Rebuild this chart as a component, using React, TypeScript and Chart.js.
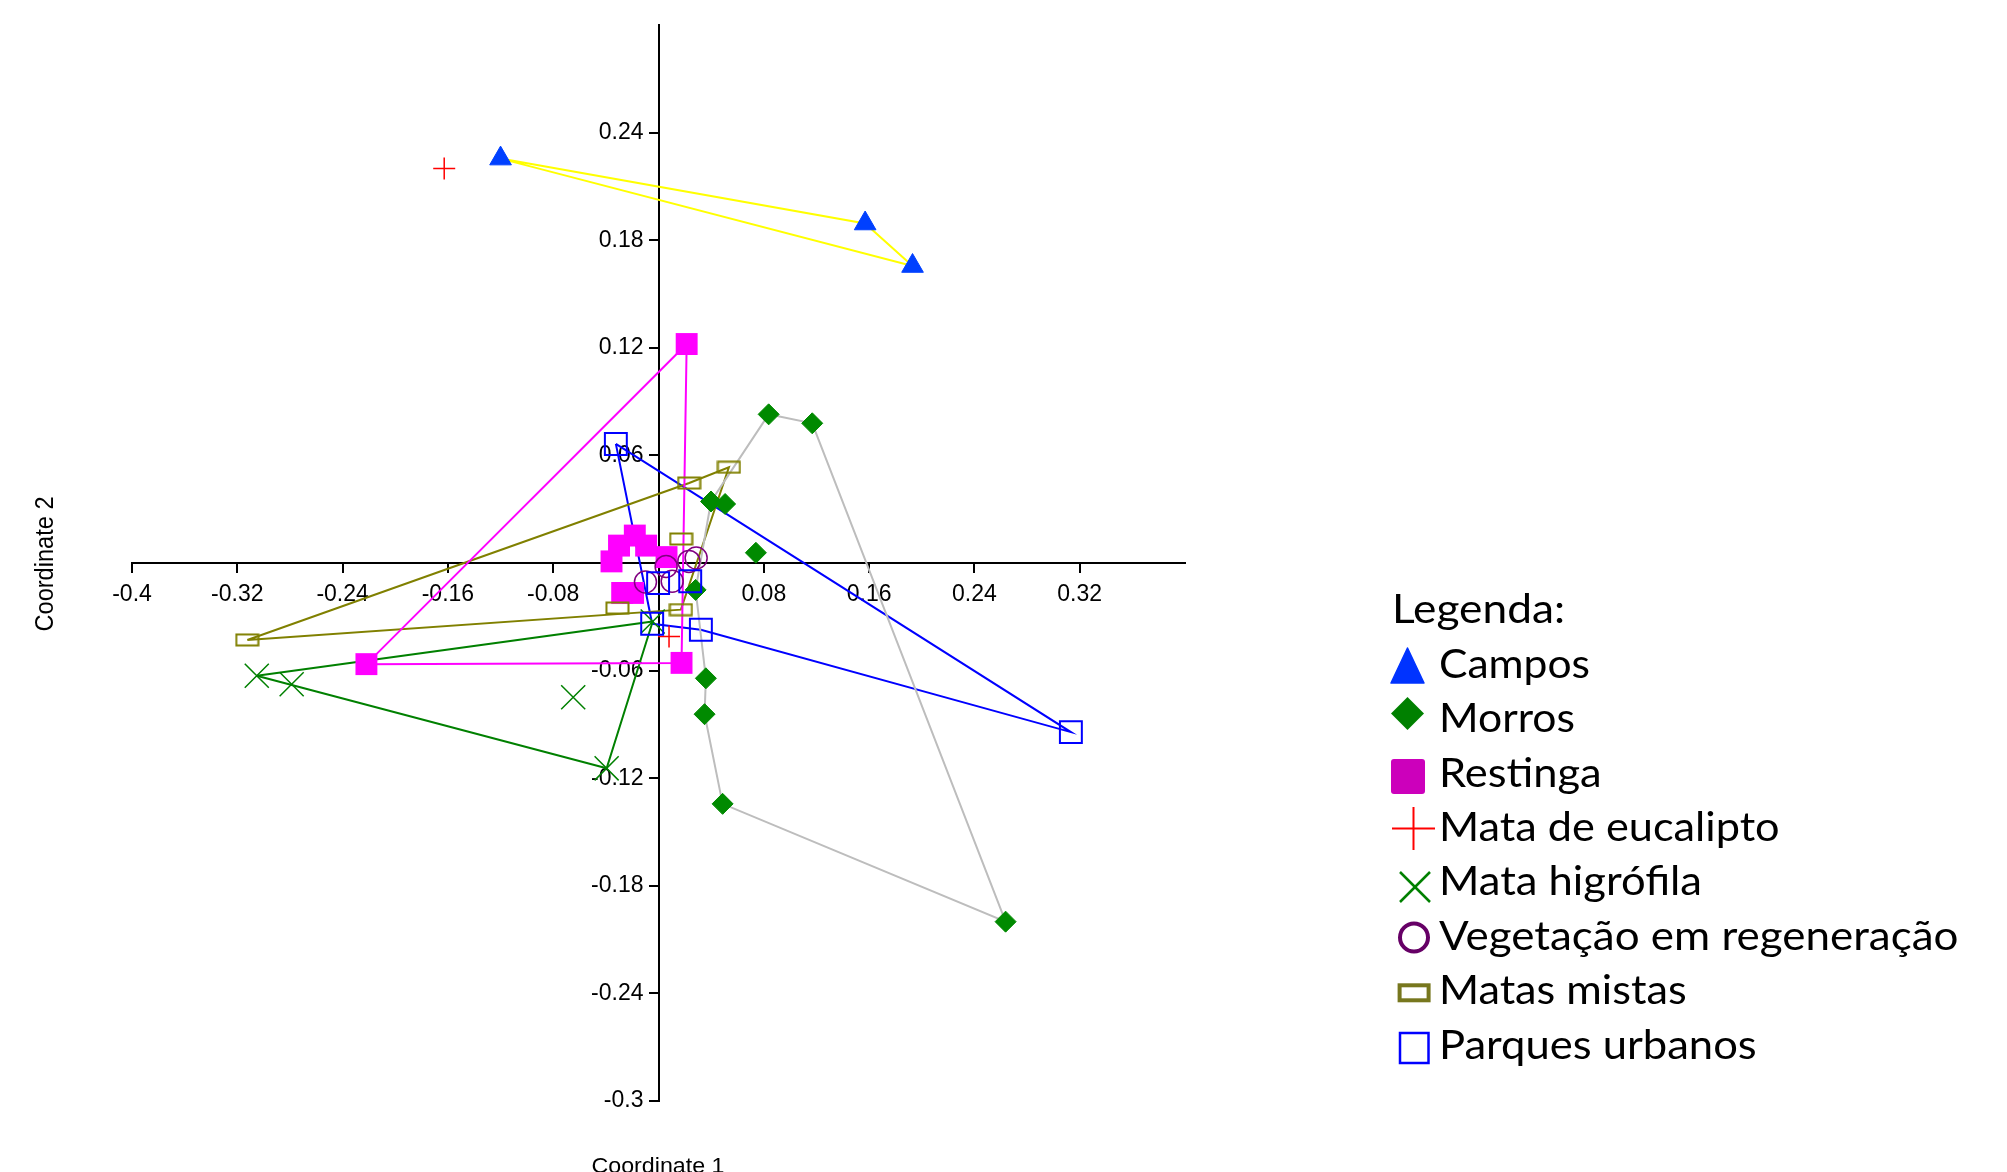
import React, { useEffect, useRef } from 'react';
import { Chart, registerables } from 'chart.js';

Chart.register(...registerables);

// ---------------- data ----------------
const xRange = [-0.4, 0.4];
const yRange = [-0.3, 0.3];
const xStep = 0.08;
const yStep = 0.06;
const axisTitles = ['Coordinate 1', 'Coordinate 2'];
const legendTitle = 'Legenda:';
const groupNames = [
  'Campos',
  'Morros',
  'Restinga',
  'Mata de eucalipto',
  'Mata higrófila',
  'Vegetação em regeneração',
  'Matas mistas',
  'Parques urbanos',
];

const camposX = [-0.12, 0.157, 0.193];
const camposY = [0.2255, 0.1893, 0.1656];
const camposHull = [0, 1, 2];

const morrosX = [0.0837, 0.1168, 0.0399, 0.0506, 0.074, 0.0282, 0.036, 0.035, 0.0487, 0.2637];
const morrosY = [0.0829, 0.0779, 0.0343, 0.0329, 0.0057, -0.015, -0.0643, -0.0843, -0.1343, -0.2];
const morrosHull = [0, 1, 9, 8, 7, 6, 5, 2];

const restingaX = [0.0214, -0.2219, 0.0175, -0.018, -0.03, -0.0094, -0.0357, 0.0061, -0.0276, -0.0193];
const restingaY = [0.1221, -0.0564, -0.0557, 0.0153, 0.0097, 0.0097, 0.0009, 0.0033, -0.0167, -0.0167];
const restingaHull = [0, 1, 2];

const eucaliptoX = [-0.1628, 0.008];
const eucaliptoY = [0.22, -0.041];
const eucaliptoHull: number[] = [];

const higrofilaX = [-0.3052, -0.2787, -0.0648, -0.0394, -0.0044];
const higrofilaY = [-0.0629, -0.0676, -0.0749, -0.1145, -0.0326];
const higrofilaHull = [0, 4, 3];

const regeneracaoX = [0.0058, -0.0099, 0.0104, 0.0231, 0.0286];
const regeneracaoY = [-0.0019, -0.0106, -0.0102, 0.0009, 0.0028];
const regeneracaoHull: number[] = [];

const mistasX = [-0.3124, 0.0233, 0.0535, 0.0172, -0.0312, 0.017];
const mistasY = [-0.0429, 0.0446, 0.0534, 0.0134, -0.0251, -0.026];
const mistasHull = [0, 1, 2, 5];

const parquesX = [-0.0324, -0.0003, 0.0241, -0.0048, 0.0322, 0.3133];
const parquesY = [0.0664, -0.0112, -0.0102, -0.0339, -0.0372, -0.0943];
const parquesHull = [0, 5, 4, 3];

const seriesX = [camposX, morrosX, restingaX, eucaliptoX, higrofilaX, regeneracaoX, mistasX, parquesX];
const seriesY = [camposY, morrosY, restingaY, eucaliptoY, higrofilaY, regeneracaoY, mistasY, parquesY];
const seriesHull = [camposHull, morrosHull, restingaHull, eucaliptoHull, higrofilaHull, regeneracaoHull, mistasHull, parquesHull];

// ---------------- styles ----------------
const hullColors = ['#FFFF00', '#BDBDBD', '#FF00FF', '#FF0000', '#008000', '#800080', '#808000', '#0000FF'];
const FONT = "'Liberation Sans', Arial, sans-serif";
const LEGEND_FONT = "Lato, 'Open Sans', sans-serif";

function fmt(v: number) {
  return String(Math.round(v * 100) / 100);
}

function makeOliveRect(): HTMLCanvasElement {
  const c = document.createElement('canvas');
  c.width = 25;
  c.height = 14;
  const ctx = c.getContext('2d')!;
  ctx.strokeStyle = '#808000';
  ctx.lineWidth = 2;
  ctx.strokeRect(1.5, 1.5, 22, 11);
  return c;
}

export default function App() {
  const canvasRef = useRef<HTMLCanvasElement | null>(null);

  useEffect(() => {
    const canvas = canvasRef.current;
    if (!canvas) return;
    const olive = makeOliveRect();

    const markerStyles: any[] = [
      { pointStyle: 'triangle', pointRadius: 12.5, backgroundColor: '#0040FF', borderColor: '#0040FF', borderWidth: 1 },
      { pointStyle: 'rectRot', pointRadius: 10.5, backgroundColor: '#008A00', borderColor: '#008A00', borderWidth: 1 },
      { pointStyle: 'rect', pointRadius: 15.5, backgroundColor: '#FF00FF', borderColor: '#FF00FF', borderWidth: 0 },
      { pointStyle: 'cross', pointRadius: 11, backgroundColor: '#FF0000', borderColor: '#FF0000', borderWidth: 1.5 },
      { pointStyle: 'crossRot', pointRadius: 17, backgroundColor: '#008000', borderColor: '#008000', borderWidth: 1.5 },
      { pointStyle: 'circle', pointRadius: 11, backgroundColor: 'rgba(0,0,0,0)', borderColor: '#800080', borderWidth: 1.5 },
      { pointStyle: olive, pointRadius: 12, backgroundColor: '#808000', borderColor: '#808000', borderWidth: 0 },
      { pointStyle: 'rect', pointRadius: 15.5, backgroundColor: 'rgba(0,0,0,0)', borderColor: '#0000FF', borderWidth: 2 },
    ];

    const datasets: any[] = [];
    groupNames.forEach((name, g) => {
      const xs = seriesX[g];
      const ys = seriesY[g];
      const hull = seriesHull[g];
      if (hull.length >= 3) {
        datasets.push({
          label: name + ' (hull)',
          data: [...hull, hull[0]].map((i) => ({ x: xs[i], y: ys[i] })),
          showLine: true,
          borderColor: hullColors[g],
          backgroundColor: hullColors[g],
          borderWidth: 2,
          pointRadius: 0,
          pointHoverRadius: 0,
          fill: false,
          tension: 0,
          order: 100 + g,
        });
      }
      const st = markerStyles[g];
      datasets.push({
        label: name,
        data: xs.map((x, i) => ({ x, y: ys[i] })),
        showLine: false,
        ...st,
        pointHoverRadius: st.pointRadius,
        pointBorderWidth: st.borderWidth,
        order: 20 - g,
      });
    });

    const chart = new Chart(canvas, {
      type: 'scatter',
      data: { datasets },
      options: {
        animation: false,
        responsive: false,
        devicePixelRatio: 1,
        events: [],
        layout: { padding: { left: 132, right: 822, top: 25, bottom: 71 } },
        plugins: { legend: { display: false }, tooltip: { enabled: false }, title: { display: false } },
        scales: {
          x: {
            type: 'linear',
            min: xRange[0],
            max: xRange[1],
            position: { y: 0 } as any,
            afterFit: (s: any) => { s.height = 0; },
            afterBuildTicks: (s: any) => {
              s.ticks = s.ticks.filter((t: any) => Math.abs(t.value) > 1e-9 && t.value < xRange[1] - 1e-6);
            },
            grid: { display: true, drawOnChartArea: false, drawTicks: true, tickLength: 9, color: '#000', lineWidth: 2 },
            border: { display: true, color: '#000', width: 2 },
            ticks: {
              stepSize: xStep,
              autoSkip: false,
              maxRotation: 0,
              minRotation: 0,
              padding: 9,
              color: '#000',
              font: { family: FONT, size: 23 },
              callback: (v: any) => fmt(Number(v)),
            },
          },
          y: {
            type: 'linear',
            min: yRange[0],
            max: yRange[1],
            position: 'center',
            afterFit: (s: any) => { s.width = 0; },
            afterBuildTicks: (s: any) => {
              s.ticks = s.ticks.filter((t: any) => Math.abs(t.value) > 1e-9 && t.value < yRange[1] - 1e-6);
            },
            grid: { display: true, drawOnChartArea: false, drawTicks: true, tickLength: 9, color: '#000', lineWidth: 2 },
            border: { display: true, color: '#000', width: 2 },
            ticks: {
              stepSize: yStep,
              autoSkip: false,
              padding: 6,
              color: '#000',
              font: { family: FONT, size: 23 },
              callback: (v: any) => fmt(Number(v)),
            },
          },
        },
      },
    });
    return () => chart.destroy();
  }, []);

  const baseline0 = 623.3;
  const step = 54.4;
  const textX = 1439;
  const legendWidths = [151, 136, 162.7, 340.6, 263, 519.5, 247.6, 317.7];

  return (
    <div style={{ position: 'absolute', left: 0, top: 0, width: 2007, height: 1172, background: '#fff', overflow: 'hidden' }}>
      <canvas ref={canvasRef} width={2007} height={1172} style={{ display: 'block', width: 2007, height: 1172 }} />
      <svg width={2007} height={1172} style={{ position: 'absolute', left: 0, top: 0, pointerEvents: 'none' }}>
        {/* axis titles */}
        <text x={658} y={1173} textAnchor="middle" fontFamily={FONT} fontSize={22} fill="#000" textLength={133} lengthAdjust="spacingAndGlyphs">{axisTitles[0]}</text>
        <text transform="translate(53,564) rotate(-90)" x={0} y={0} textAnchor="middle" fontFamily={FONT} fontSize={26} fill="#000" textLength={135} lengthAdjust="spacingAndGlyphs">{axisTitles[1]}</text>

        {/* legend */}
        <text x={1392} y={baseline0} fontFamily={LEGEND_FONT} fontSize={40} fill="#000" textLength={173} lengthAdjust="spacingAndGlyphs">{legendTitle}</text>
        {groupNames.map((n, i) => (
          <text key={n} x={textX} y={baseline0 + step * (i + 1)} fontFamily={LEGEND_FONT} fontSize={40} fill="#000" textLength={legendWidths[i]} lengthAdjust="spacingAndGlyphs">{n}</text>
        ))}
        {/* legend markers */}
        <polygon points="1391,683 1424,683 1407.5,648" fill="#0033FF" stroke="#0033FF" strokeWidth={1.5} strokeLinejoin="round" />
        <polygon points="1391,713.5 1407.5,697 1424,713.5 1407.5,730" fill="#008000" />
        <rect x={1391} y={759} width={34} height={35} rx={3} fill="#CC00BB" />
        <line x1={1392} y1={828.5} x2={1435} y2={828.5} stroke="#FF0000" strokeWidth={2} />
        <line x1={1413.5} y1={807} x2={1413.5} y2={850} stroke="#FF0000" strokeWidth={2} />
        <line x1={1400} y1={872} x2={1430} y2={902} stroke="#008000" strokeWidth={2.5} />
        <line x1={1430} y1={872} x2={1400} y2={902} stroke="#008000" strokeWidth={2.5} />
        <circle cx={1414} cy={937.5} r={14} fill="none" stroke="#660066" strokeWidth={4} />
        <rect x={1399.6} y={985.3} width={29} height={15} fill="none" stroke="#77771E" strokeWidth={4} />
        <rect x={1400} y={1033} width={28.5} height={30} fill="none" stroke="#0000FF" strokeWidth={2.5} />
      </svg>
    </div>
  );
}
